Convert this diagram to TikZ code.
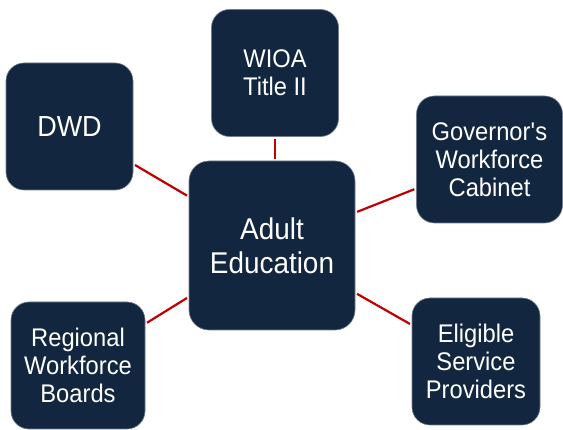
\documentclass[tikz,border=0pt]{standalone}
\usepackage{fontspec}
\setmainfont[FakeStretch=0.93]{Liberation Sans}
\definecolor{navy}{HTML}{13263F}
\definecolor{linkred}{HTML}{C00000}
\tikzset{
  box/.style={rectangle, draw=navy!60!white, line width=0.6pt, fill=navy, text=white,
    align=center, rounded corners=18pt, minimum width=127pt, minimum height=127pt,
    inner sep=0pt, font=\fontsize{25.5}{28}\selectfont},
  link/.style={draw=linkred, line width=2.2pt, shorten <=2pt, shorten >=2pt}
}
\begin{document}
\begin{tikzpicture}[x=1pt, y=-1pt]
\useasboundingbox (0,0) rectangle (563,430);

\node [box, minimum width=166pt, minimum height=169pt, rounded corners=20pt,
  font=\fontsize{30}{34}\selectfont] (ae) at (272,245.5) {Adult\\Education};

\node [box] (wioa) at (275,73) {WIOA\\Title II};
\node [box, font=\fontsize{29}{32}\selectfont] (dwd) at (69.5,126.5) {DWD};
\node [box, minimum width=146pt] (gwc) at (489.5,159.5) {Governor\textquotesingle s\\Workforce\\Cabinet};
\node [box, minimum width=134pt] (rwb) at (78,365.5) {Regional\\Workforce\\Boards};
\node [box, minimum width=128pt] (esp) at (476,361.5) {Eligible\\Service\\Providers};

\draw [link] (wioa.south) -- (wioa.south |- ae.north);
\draw [link] (dwd) -- (ae);
\draw [link] (gwc) -- (ae);
\draw [link] (rwb) -- (ae);
\draw [link] (esp) -- (ae);
\end{tikzpicture}
\end{document}
